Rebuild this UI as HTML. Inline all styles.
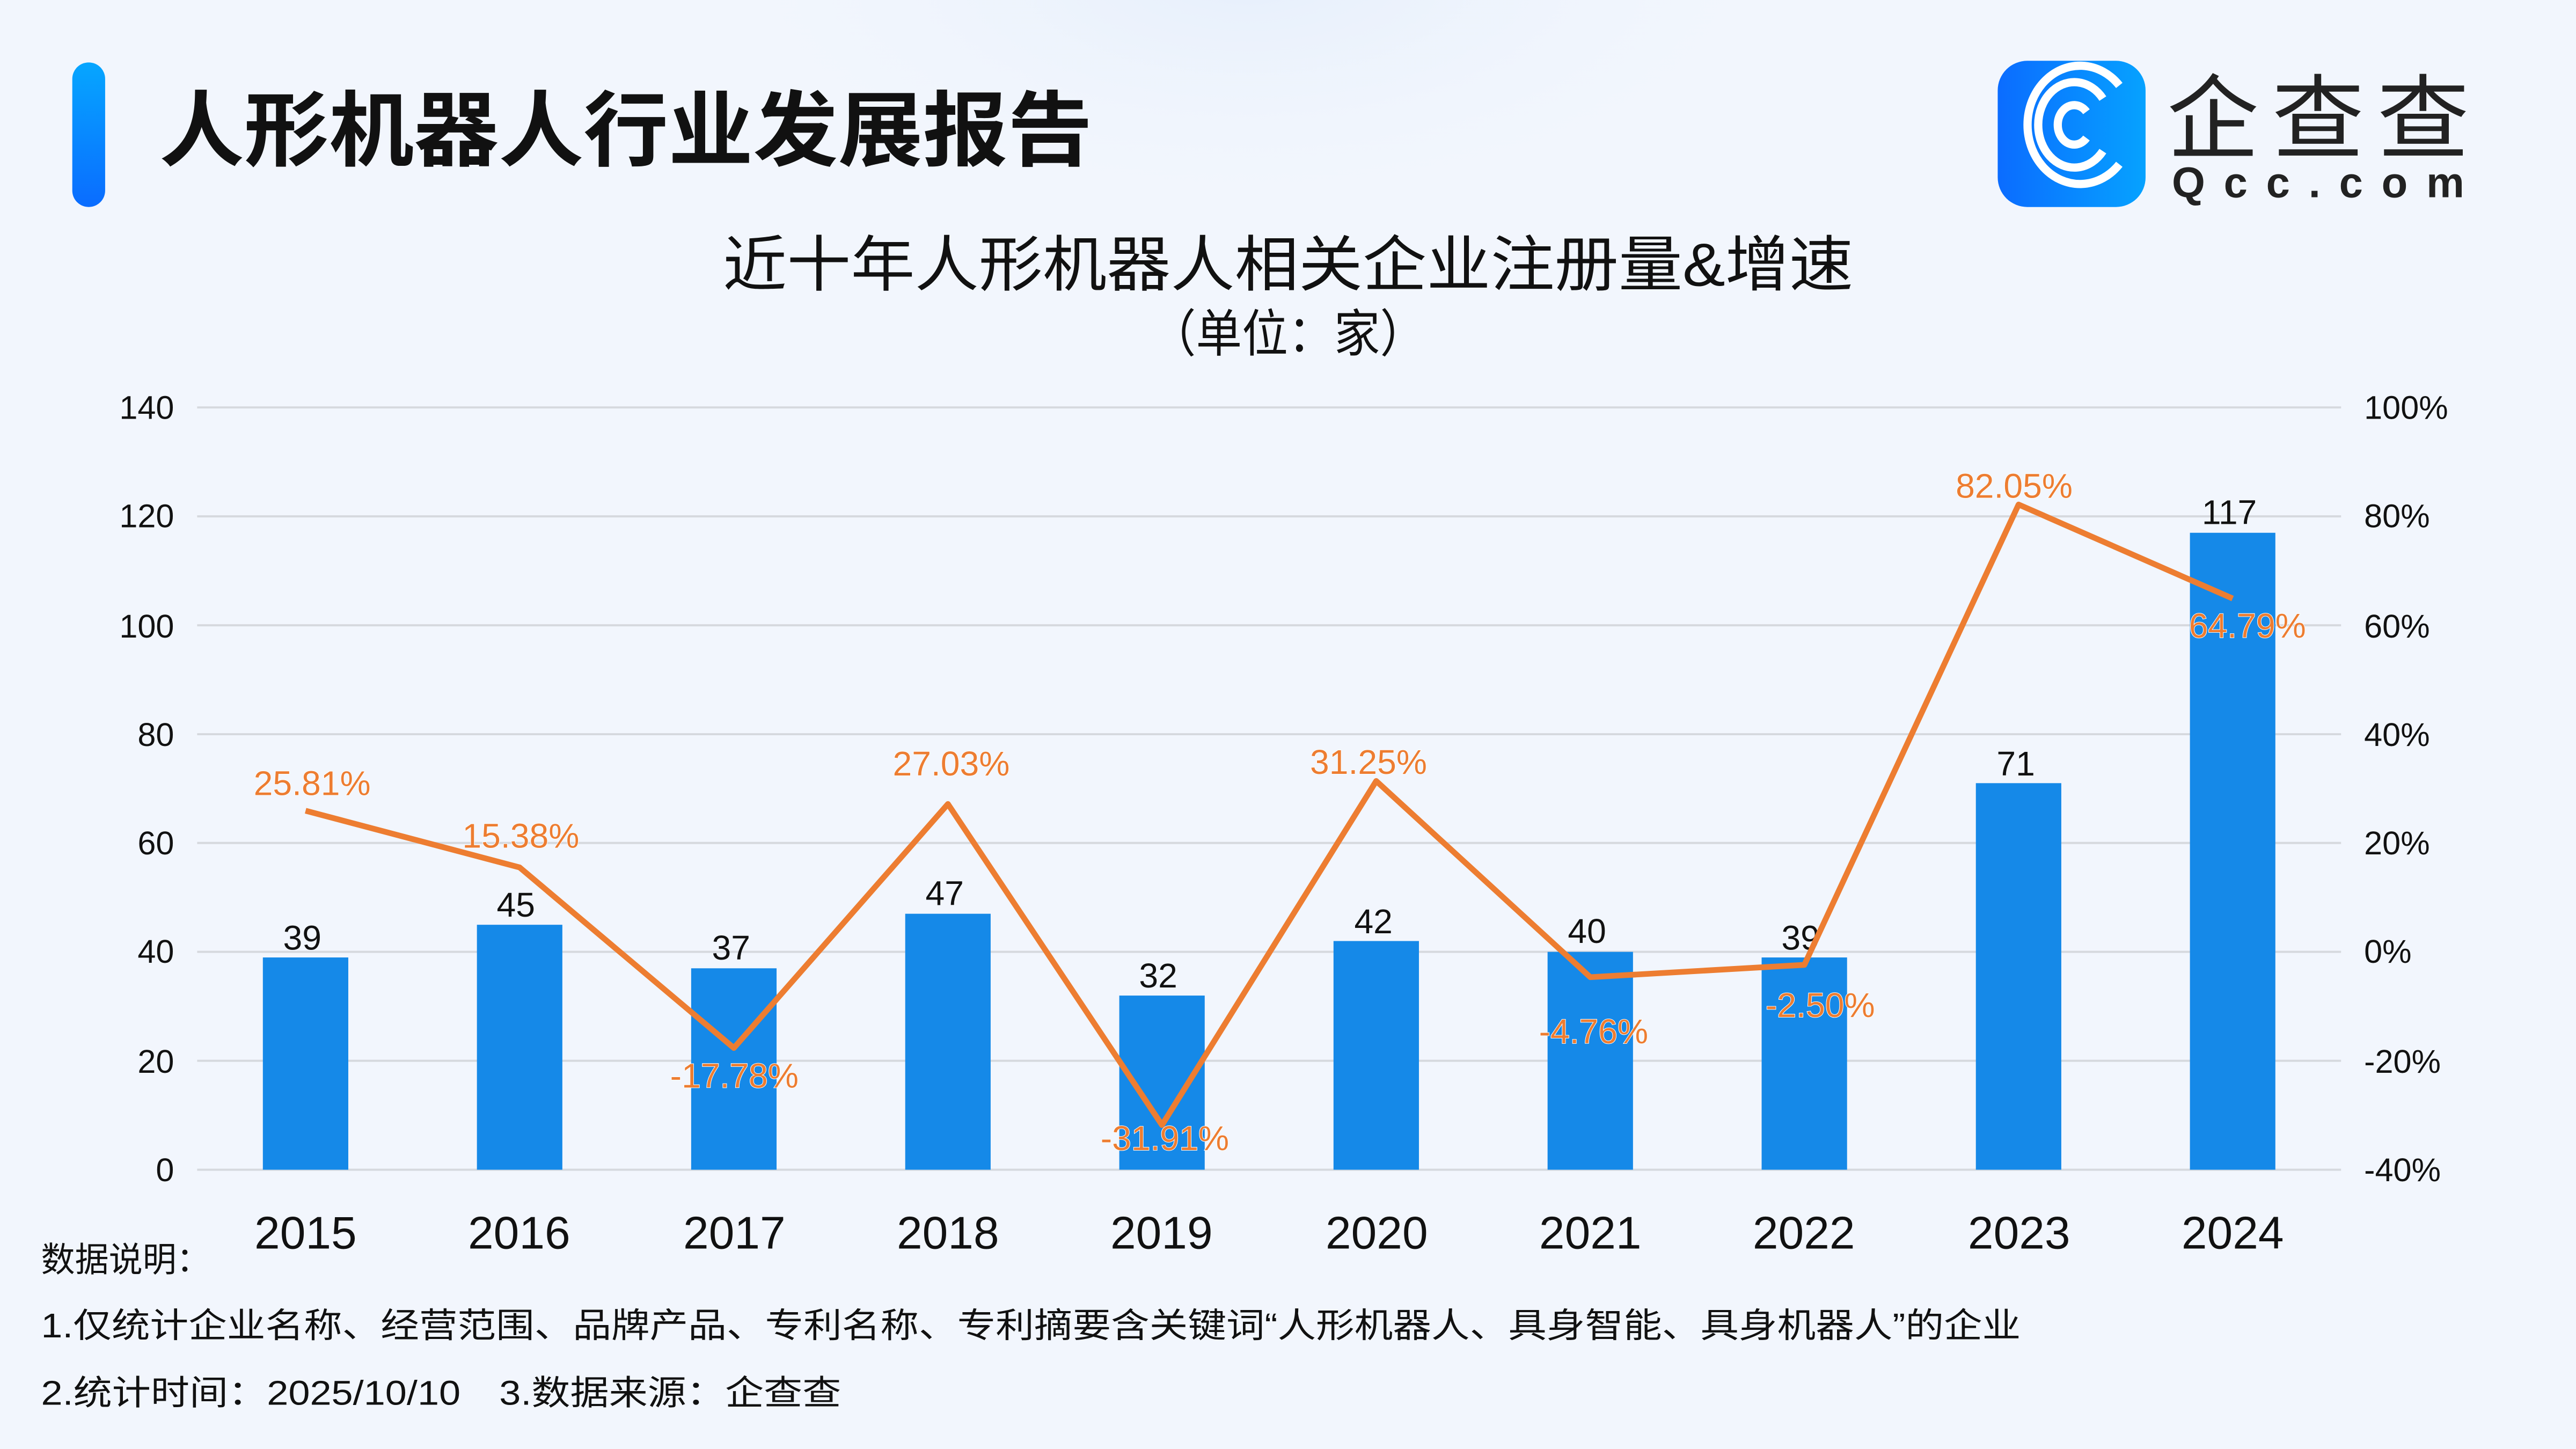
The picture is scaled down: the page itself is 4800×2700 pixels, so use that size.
<!DOCTYPE html>
<html><head><meta charset="utf-8"><style>
html,body{margin:0;padding:0;width:4800px;height:2700px;overflow:hidden}
body{background:linear-gradient(180deg,#f3f7fd 0%,#eef4fc 60%,#e8f0fb 100%)}
svg{display:block}
text{font-family:"Liberation Sans","Noto Sans CJK SC",sans-serif}
</style></head><body>
<svg width="4800" height="2700" viewBox="0 0 1568 882" xmlns="http://www.w3.org/2000/svg">
<defs>
<linearGradient id="bar" x1="0" y1="0" x2="0" y2="1"><stop offset="0" stop-color="#06a6ff"/><stop offset="1" stop-color="#0a6cff"/></linearGradient>
<linearGradient id="logo" x1="0" y1="0" x2="1" y2="0"><stop offset="0" stop-color="#0b6cff"/><stop offset="1" stop-color="#06a2ff"/></linearGradient>
<radialGradient id="glow" cx="0.5" cy="0.3" r="0.6"><stop offset="0" stop-color="#e6effc"/><stop offset="1" stop-color="#f3f7fd" stop-opacity="0"/></radialGradient>
</defs>
<rect width="1568" height="882" fill="#f2f6fd"/>
<ellipse cx="760" cy="40" rx="320" ry="140" fill="url(#glow)"/>
<rect x="44" y="38" width="20" height="88" rx="10" fill="url(#bar)"/>
<text x="97" y="97" font-size="50" font-weight="bold" fill="#111" textLength="568" lengthAdjust="spacingAndGlyphs">人形机器人行业发展报告</text>
<rect x="1216" y="37" width="90" height="89" rx="18" fill="url(#logo)"/>
<g fill="none" stroke="#fff" stroke-width="5">
<path d="M1290 100 A32 36 0 1 1 1290 52"/>
<path d="M1280 92 A22 26 0 1 1 1280 60"/>
<path d="M1270 84 A10 12 0 1 1 1270 68"/>
</g>
<text x="1319" y="92" font-size="56" fill="#222" textLength="184">企查查</text>
<text x="1322" y="120" font-size="26" font-weight="bold" fill="#222" textLength="178">Qcc.com</text>
<text x="440" y="174" font-size="37" fill="#111" textLength="688" lengthAdjust="spacingAndGlyphs">近十年人形机器人相关企业注册量&amp;增速</text>
<text x="700" y="214" font-size="31" fill="#111" textLength="168" lengthAdjust="spacingAndGlyphs">（单位：家）</text>
<g stroke="#d6d9de" stroke-width="1.3">
<line x1="120" y1="248" x2="1425" y2="248"/><line x1="120" y1="314.3" x2="1425" y2="314.3"/>
<line x1="120" y1="380.6" x2="1425" y2="380.6"/><line x1="120" y1="446.9" x2="1425" y2="446.9"/>
<line x1="120" y1="513.1" x2="1425" y2="513.1"/><line x1="120" y1="579.4" x2="1425" y2="579.4"/>
<line x1="120" y1="645.7" x2="1425" y2="645.7"/><line x1="120" y1="712" x2="1425" y2="712"/>
</g>
<g font-size="20" fill="#111" text-anchor="end">
<text x="106" y="255">140</text><text x="106" y="321">120</text><text x="106" y="388">100</text>
<text x="106" y="454">80</text><text x="106" y="520">60</text><text x="106" y="586">40</text>
<text x="106" y="653">20</text><text x="106" y="719">0</text>
</g>
<g font-size="20" fill="#111">
<text x="1439" y="255">100%</text><text x="1439" y="321">80%</text><text x="1439" y="388">60%</text>
<text x="1439" y="454">40%</text><text x="1439" y="520">20%</text><text x="1439" y="586">0%</text>
<text x="1439" y="653">-20%</text><text x="1439" y="719">-40%</text>
</g>
<g fill="#1589e8">
<rect x="160" y="582.8" width="52" height="129.2"/>
<rect x="290.3" y="562.9" width="52" height="149.1"/>
<rect x="420.7" y="589.4" width="52" height="122.6"/>
<rect x="551" y="556.2" width="52" height="155.8"/>
<rect x="681.3" y="606" width="52" height="106"/>
<rect x="811.7" y="572.8" width="52" height="139.2"/>
<rect x="942" y="579.4" width="52" height="132.6"/>
<rect x="1072.3" y="582.8" width="52" height="129.2"/>
<rect x="1202.7" y="476.7" width="52" height="235.3"/>
<rect x="1333" y="324.3" width="52" height="387.7"/>
</g>
<g font-size="21" fill="#111" text-anchor="middle">
<text x="184" y="578">39</text><text x="314" y="558">45</text><text x="445" y="584">37</text>
<text x="575" y="551">47</text><text x="705" y="601">32</text><text x="836" y="568">42</text>
<text x="966" y="574">40</text><text x="1096" y="578">39</text><text x="1227" y="472">71</text>
<text x="1357" y="319">117</text>
</g>
<polyline fill="none" stroke="#ed7d31" stroke-width="3.5" stroke-linejoin="round" points="186,493.5 316.3,528 446.7,637.9 577,489.4 707.3,684.8 837.7,475.4 968,594.8 1098.3,587.3 1228.7,307.1 1359,364.3"/>
<g font-size="21" fill="#ed7d31" text-anchor="middle" stroke="#ffffff" stroke-width="0.6" paint-order="stroke">
<text x="190" y="484">25.81%</text><text x="317" y="516">15.38%</text><text x="447" y="662">-17.78%</text>
<text x="579" y="472">27.03%</text><text x="709" y="700">-31.91%</text><text x="833" y="471">31.25%</text>
<text x="970" y="635">-4.76%</text><text x="1108" y="619">-2.50%</text><text x="1226" y="303">82.05%</text>
<text x="1368" y="388">64.79%</text>
</g>
<g font-size="28" fill="#111" text-anchor="middle">
<text x="186" y="760">2015</text><text x="316" y="760">2016</text><text x="447" y="760">2017</text>
<text x="577" y="760">2018</text><text x="707" y="760">2019</text><text x="838" y="760">2020</text>
<text x="968" y="760">2021</text><text x="1098" y="760">2022</text><text x="1229" y="760">2023</text>
<text x="1359" y="760">2024</text>
</g>
<g font-size="21" fill="#111">
<text x="25" y="774" textLength="103" lengthAdjust="spacingAndGlyphs">数据说明：</text>
<text x="25" y="814" textLength="1205" lengthAdjust="spacingAndGlyphs">1.仅统计企业名称、经营范围、品牌产品、专利名称、专利摘要含关键词“人形机器人、具身智能、具身机器人”的企业</text>
<text x="25" y="855" textLength="487" lengthAdjust="spacingAndGlyphs">2.统计时间：2025/10/10　3.数据来源：企查查</text>
</g>
</svg>
</body></html>
